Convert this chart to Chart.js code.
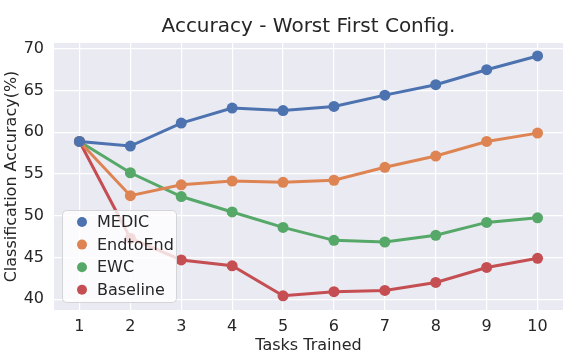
<!DOCTYPE html>
<html>
<head>
<meta charset="utf-8">
<script src="https://cdn.jsdelivr.net/npm/chart.js@4/dist/chart.umd.min.js"></script>
<style>
  html, body { margin: 0; padding: 0; background: #fff; }
  #wrap { width: 582px; height: 360px; }
</style>
</head>
<body>
<div id="wrap"><canvas id="grafico"></canvas></div>
<script>
// datos
const tareas = [1, 2, 3, 4, 5, 6, 7, 8, 9, 10];
const medic = [58.9, 58.35, 61.1, 62.9, 62.6, 63.1, 64.45, 65.7, 67.5, 69.15];
const endtoend = [58.9, 52.4, 53.7, 54.15, 54.0, 54.25, 55.8, 57.15, 58.9, 59.9];
const ewc = [58.9, 55.15, 52.3, 50.45, 48.6, 47.05, 46.85, 47.65, 49.2, 49.75];
const baseline = [58.9, 47.3, 44.7, 44.0, 40.4, 40.9, 41.05, 42.0, 43.8, 44.9];
const nombres = ["MEDIC", "EndtoEnd", "EWC", "Baseline"];
const colores = ["#4C72B0", "#DD8452", "#55A868", "#C44E52"];
const yTicks = [40, 45, 50, 55, 60, 65, 70];
const titulo = "Accuracy - Worst First Config.";

const fuente = "'DejaVu Sans', sans-serif";
const texto = "#262626";

const series = [medic, endtoend, ewc, baseline];
const datasets = series.map((vals, i) => ({
  label: nombres[i],
  data: vals.map((v, j) => ({ x: tareas[j], y: v })),
  borderColor: colores[i],
  backgroundColor: colores[i],
  borderWidth: 3,
  pointRadius: 5.5,
  pointHoverRadius: 5.5,
  pointBorderWidth: 0,
  tension: 0
}));

// fondo gris del area (estilo seaborn) + titulo centrado sobre el area
const fondo = {
  id: 'fondo',
  beforeDraw(chart) {
    const { ctx, chartArea: a } = chart;
    ctx.save();
    ctx.fillStyle = "#EAEAF2";
    ctx.fillRect(a.left, a.top, a.right - a.left, a.bottom - a.top);
    ctx.fillStyle = texto;
    ctx.font = "20px " + fuente;
    ctx.textAlign = "center";
    ctx.textBaseline = "middle";
    ctx.fillText(titulo, (a.left + a.right) / 2, 27);
    ctx.restore();
  }
};

// leyenda dentro del grafico, abajo a la izquierda
const leyenda = {
  id: 'leyenda',
  afterDatasetsDraw(chart) {
    const { ctx, chartArea: a } = chart;
    const x = a.left + 8, w = 114, h = 92;
    const y = a.bottom - 8 - h;
    ctx.save();
    ctx.beginPath();
    ctx.roundRect(x + 0.5, y + 0.5, w, h, 4);
    ctx.fillStyle = "rgba(255,255,255,0.8)";
    ctx.fill();
    ctx.strokeStyle = "#D5D5D8";
    ctx.lineWidth = 1;
    ctx.stroke();
    ctx.font = "16px " + fuente;
    ctx.textBaseline = "middle";
    nombres.forEach((n, i) => {
      const cy = y + 12 + i * 22.6;
      ctx.beginPath();
      ctx.arc(x + 20, cy, 5, 0, Math.PI * 2);
      ctx.fillStyle = colores[i];
      ctx.fill();
      ctx.fillStyle = texto;
      ctx.fillText(n, x + 35, cy + 1);
    });
    ctx.restore();
  }
};

new Chart(document.getElementById("grafico"), {
  type: "line",
  data: { datasets },
  plugins: [fondo, leyenda],
  options: {
    responsive: true,
    maintainAspectRatio: false,
    animation: false,
    layout: { padding: { top: 43, right: 19, bottom: 0, left: 0 } },
    plugins: {
      legend: { display: false },
      tooltip: { enabled: false },
      title: { display: false }
    },
    scales: {
      x: {
        type: "linear",
        min: 0.5,
        max: 10.5,
        border: { display: false },
        grid: { color: "#FFFFFF", lineWidth: 1.2, drawTicks: false },
        afterBuildTicks(scale) {
          scale.ticks = tareas.map(v => ({ value: v }));
        },
        afterFit(scale) { scale.height = 50; },
        ticks: {
          color: texto,
          padding: 7,
          font: { family: fuente, size: 16 }
        },
        title: {
          display: true,
          text: "Tasks Trained",
          color: texto,
          font: { family: fuente, size: 16 },
          padding: { top: 0, bottom: 5 }
        }
      },
      y: {
        min: 38.7,
        max: 70.7,
        border: { display: false },
        grid: { color: "#FFFFFF", lineWidth: 1.2, drawTicks: false },
        afterBuildTicks(scale) {
          scale.ticks = yTicks.map(v => ({ value: v }));
        },
        afterFit(scale) { scale.width = 54; },
        ticks: {
          color: texto,
          padding: 10,
          font: { family: fuente, size: 16 }
        },
        title: {
          display: true,
          text: "Classification Accuracy(%)",
          color: texto,
          font: { family: fuente, size: 16 },
          padding: { top: 2, bottom: 0 }
        }
      }
    }
  }
});
</script>
</body>
</html>
